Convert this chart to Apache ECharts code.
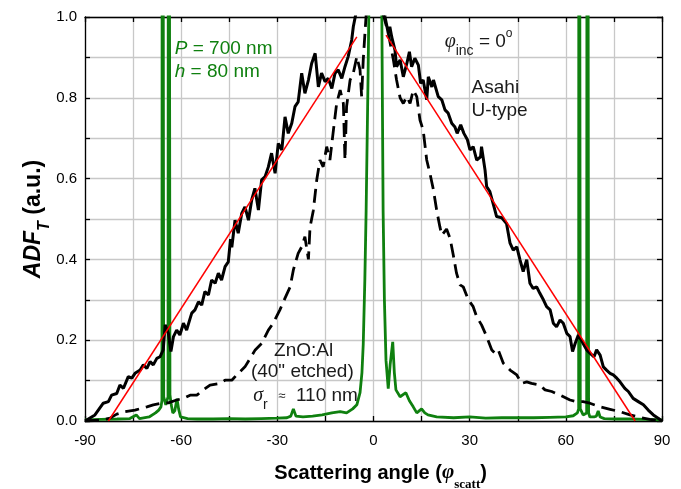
<!DOCTYPE html>
<html>
<head>
<meta charset="utf-8">
<script src="https://cdn.jsdelivr.net/npm/echarts@6/dist/echarts.min.js"></script>
<style>
html,body{margin:0;padding:0;background:#fff;}
#chart{width:681px;height:489px;}
</style>
</head>
<body>
<div id="chart"></div>
<script>
// ---- Data ----
const xTicks = [-90, -60, -30, 0, 30, 60, 90];
const yTicks = [0.0, 0.2, 0.4, 0.6, 0.8, 1.0];

// Asahi U-type (solid black)
const asahiAngle = [-90,-86.9,-84.3,-82.7,-81.7,-80.1,-79.1,-78,-76.5,-75.4,-74.4,-72.8,-71.8,-70.7,-69.7,-68.7,-67.6,-66.6,-65.6,-65,-64,-63.2,-62.4,-61.4,-60.4,-59.3,-58.3,-57.2,-56.7,-55.7,-54.6,-53.6,-52.6,-51.5,-50.5,-49.4,-48.4,-47.4,-46.3,-45.3,-44.6,-44.2,-43.2,-42.2,-41.1,-40.1,-39,-38,-37,-35.9,-34.9,-33.8,-32.8,-31.8,-30.7,-29.7,-28.6,-27.6,-26.6,-25.5,-24.5,-23.5,-22.4,-21.4,-20.3,-19.3,-18.2,-17.2,-16.2,-15.1,-14.1,-13,-12,-11,-9.9,-8.9,-7.9,-6.8,-6.3,-5.2,-4,-2,0,2,3,3.6,4.6,5.1,5.7,6.7,7.2,8.3,9.3,10.4,11.2,11.9,12.9,14,14.7,15.5,16.6,17.1,18.2,18.7,20.2,21.3,22.3,23.3,24.4,25.4,26.1,27.2,28.2,29.3,30.1,31.1,32.2,33.4,33.7,34.8,35.3,36.3,37.6,38.4,40,41.5,42.6,43.6,44.7,45.7,46.7,47.8,48.8,49.8,50.9,51.9,53,54,55.1,56.1,57.1,58.2,59.2,60.3,61.3,62.1,62.9,63.9,65.4,66.5,67.5,68.8,69.6,70.7,71.7,72.7,73.8,74.8,75.9,76.9,78.4,79.5,81,82.6,84.2,85.7,87.3,88.8,90];
const asahiValue = [0,0.015,0.044,0.048,0.064,0.068,0.089,0.081,0.11,0.106,0.118,0.126,0.139,0.13,0.147,0.139,0.155,0.159,0.176,0.238,0.217,0.172,0.209,0.225,0.213,0.242,0.225,0.254,0.267,0.275,0.295,0.287,0.32,0.312,0.349,0.341,0.366,0.349,0.382,0.394,0.45,0.43,0.497,0.465,0.514,0.53,0.497,0.547,0.576,0.522,0.597,0.605,0.629,0.663,0.613,0.687,0.671,0.753,0.712,0.737,0.778,0.79,0.861,0.811,0.844,0.885,0.91,0.827,0.861,0.84,0.848,0.823,0.861,0.869,0.848,0.877,0.902,0.943,0.976,1.02,1.08,1.15,1.2,1.12,1.05,1.0,0.96,0.976,0.95,0.918,0.877,0.894,0.852,0.885,0.914,0.877,0.898,0.881,0.836,0.844,0.795,0.852,0.827,0.844,0.803,0.795,0.77,0.762,0.737,0.728,0.712,0.733,0.712,0.696,0.671,0.679,0.646,0.654,0.679,0.621,0.58,0.568,0.53,0.506,0.503,0.489,0.44,0.423,0.431,0.399,0.37,0.399,0.341,0.328,0.332,0.316,0.3,0.283,0.275,0.242,0.233,0.25,0.242,0.217,0.209,0.172,0.192,0.213,0.192,0.176,0.168,0.159,0.176,0.163,0.134,0.126,0.118,0.114,0.106,0.097,0.081,0.073,0.056,0.048,0.04,0.027,0.015,0.007,0];

// ZnO:Al 40" etched (dashed black)
const znoAngle = [-90,-85.3,-82.2,-80.1,-77.5,-74.4,-70.7,-68.7,-66.1,-64,-61.4,-59.3,-57.2,-55.1,-53.1,-51,-47.9,-46.3,-44.2,-42.2,-40.1,-38.5,-36.9,-34.9,-32.8,-31.3,-29.2,-27.6,-26,-25,-23.5,-22.4,-21.4,-20.3,-19.8,-18.8,-17.7,-16.7,-15.7,-14.6,-13.6,-12.5,-11.5,-10.4,-9.4,-8.9,-8.4,-7.3,-6.3,-5.2,-4.2,-3.7,-3.2,-2.6,-1.5,0,1.5,2.6,3.6,4.6,6.2,7.2,8.3,9.3,10.4,11.4,12.4,13.5,14.5,15.5,16.6,17.6,18.7,19.7,20.7,21.3,22.8,23.9,24.9,25.9,27,28,29.6,31.1,32.2,33.7,35.3,36.9,37.9,38.9,40.5,42.6,44.7,46.2,47.8,49.3,51.9,53.5,55.6,58.2,61.3,63.4,65.4,67.5,70.7,73.8,76.9,80,83.1,86.2,90];
const znoValue = [0,0.002,0.007,0.017,0.023,0.027,0.035,0.04,0.044,0.045,0.052,0.056,0.064,0.064,0.077,0.089,0.093,0.101,0.101,0.118,0.134,0.155,0.176,0.192,0.225,0.242,0.275,0.304,0.332,0.374,0.415,0.431,0.456,0.4,0.48,0.52,0.597,0.646,0.629,0.679,0.646,0.72,0.786,0.819,0.786,0.646,0.778,0.844,0.861,0.902,0.869,0.803,0.894,0.968,1.1,1.2,1.1,1.02,0.99,0.96,0.894,0.844,0.8,0.786,0.803,0.786,0.819,0.803,0.745,0.72,0.646,0.613,0.572,0.522,0.481,0.46,0.475,0.452,0.41,0.366,0.337,0.332,0.3,0.283,0.258,0.238,0.209,0.176,0.168,0.176,0.143,0.126,0.114,0.093,0.097,0.093,0.089,0.077,0.073,0.064,0.052,0.048,0.048,0.044,0.035,0.029,0.023,0.015,0.009,0.004,0];

// Grating P = 700 nm, h = 80 nm (green)
const gratingAngle = [-90,-85,-80,-76,-74,-73,-70,-68,-67,-66.3,-66.0,-65.85,-65.65,-65.45,-64.8,-64.1,-63.9,-63.7,-63.5,-63.1,-62.6,-62,-61.3,-60.8,-60.2,-58,-55,-50,-45,-40,-35,-30,-27,-25.8,-25,-24.2,-22,-19,-16,-13,-10.4,-8.4,-6.5,-5.2,-4.2,-3.6,-3.2,-2.7,-2.3,-1.7,-1.4,-1,0,2,2.6,3,3.4,3.9,4.6,5.2,6,6.5,7,8.3,10.1,11.2,12.4,13.5,15,16,17,19.7,25,30,35,40,45,50,55,60,62.3,63.6,64.0,64.1,64.3,64.5,65.4,66.5,66.7,66.9,67.1,67.5,68.8,69.5,70.1,70.7,72,76,80,85,90];
const gratingValue = [0.003,0.004,0.005,0.006,0.015,0.006,0.01,0.02,0.027,0.035,0.05,3,3,0.06,0.04,0.06,3,3,0.065,0.04,0.02,0.025,0.055,0.03,0.01,0.006,0.005,0.005,0.006,0.005,0.006,0.007,0.008,0.012,0.03,0.012,0.01,0.012,0.015,0.02,0.023,0.02,0.03,0.04,0.07,0.12,0.19,0.35,0.52,0.85,1.05,2,5,2,1.0,0.52,0.3,0.15,0.08,0.14,0.196,0.12,0.077,0.06,0.07,0.05,0.035,0.02,0.03,0.02,0.015,0.01,0.008,0.01,0.007,0.008,0.008,0.008,0.009,0.01,0.013,0.02,0.03,3,3,0.03,0.015,0.02,3,3,0.02,0.01,0.01,0.012,0.025,0.01,0.006,0.005,0.005,0.004,0.003];

// Red linear guides
const guideLeftAngle = [-82.7, -5.2];
const guideLeftValue = [0, 0.951];
const guideRightAngle = [3.9, 81.6];
const guideRightValue = [0.955, 0];

const zip = (a, b) => a.map((x, i) => [x, b[i]]);

const SANS = 'Liberation Sans, Arial, sans-serif';
const SERIF = 'Liberation Serif, Times New Roman, serif';

const chart = echarts.init(document.getElementById('chart'), null, {renderer: 'canvas'});

const axisLineStyle = {color: '#000', width: 1.3};
const option = {
  animation: false,
  backgroundColor: '#fff',
  grid: {left: 85, right: 19, top: 17, bottom: 68, containLabel: false, outerBoundsMode: 'none'},
  xAxis: [
    {
      type: 'value', min: -90, max: 90, interval: 15, position: 'bottom',
      axisLine: {show: true, onZero: false, lineStyle: axisLineStyle},
      axisTick: {show: true, inside: true, length: 5, lineStyle: axisLineStyle},
      splitLine: {show: true, lineStyle: {color: '#c8c8c8', width: 1.3}},
      axisLabel: {
        formatter: v => (xTicks.indexOf(v) >= 0 ? String(v) : ''),
        fontSize: 15, color: '#000', fontFamily: SANS, margin: 12
      },
      name: '{b|Scattering angle (}{phi|φ}{sub|scatt}{b|)}',
      nameLocation: 'middle', nameGap: 40, nameMoveOverlap: false,
      nameTextStyle: {
        padding: [0, 0, 0, 14],
        rich: {
          b: {fontSize: 20, fontWeight: 'bold', fontFamily: SANS, color: '#000', lineHeight: 24},
          phi: {fontSize: 21, fontWeight: 'bold', fontStyle: 'italic', fontFamily: SERIF, color: '#000', lineHeight: 24},
          sub: {fontSize: 13, fontWeight: 'bold', fontFamily: SERIF, color: '#000', verticalAlign: 'bottom', lineHeight: 13, padding: [0, 0, -6, 0]}
        }
      }
    },
    {
      type: 'value', min: -90, max: 90, interval: 15, position: 'top',
      axisLine: {show: true, onZero: false, lineStyle: axisLineStyle},
      axisTick: {show: true, inside: true, length: 5, lineStyle: axisLineStyle},
      splitLine: {show: false}, axisLabel: {show: false}
    }
  ],
  yAxis: [
    {
      type: 'value', min: 0, max: 1, interval: 0.1, position: 'left',
      axisLine: {show: true, onZero: false, lineStyle: axisLineStyle},
      axisTick: {show: true, inside: true, length: 5, lineStyle: axisLineStyle},
      splitLine: {show: true, lineStyle: {color: '#c8c8c8', width: 1.3}},
      axisLabel: {
        formatter: v => {
          const r = Math.round(v * 10) / 10;
          return yTicks.some(t => Math.abs(t - r) < 1e-9) ? r.toFixed(1) : '';
        },
        fontSize: 15, color: '#000', fontFamily: SANS, margin: 8
      },
      name: '{bi|ADF}{sub|T}{b| (a.u.)}',
      nameLocation: 'middle', nameGap: 38, nameRotate: 90, nameMoveOverlap: false,
      nameTextStyle: {
        rich: {
          bi: {fontSize: 23, fontWeight: 'bold', fontStyle: 'italic', fontFamily: SANS, color: '#000', lineHeight: 26},
          b: {fontSize: 23, fontWeight: 'bold', fontFamily: SANS, color: '#000', lineHeight: 26},
          sub: {fontSize: 16, fontWeight: 'bold', fontStyle: 'italic', fontFamily: SANS, color: '#000', verticalAlign: 'bottom', lineHeight: 16, padding: [0, 0, -6, 0]}
        }
      }
    },
    {
      type: 'value', min: 0, max: 1, interval: 0.1, position: 'right',
      axisLine: {show: true, onZero: false, lineStyle: axisLineStyle},
      axisTick: {show: true, inside: true, length: 5, lineStyle: axisLineStyle},
      splitLine: {show: false}, axisLabel: {show: false}
    }
  ],
  series: [
    {
      name: 'Grating', type: 'line', xAxisIndex: 0, yAxisIndex: 0,
      data: zip(gratingAngle, gratingValue), symbol: 'none', clip: true,
      lineStyle: {color: '#0f800f', width: 2.8}, z: 2
    },
    {
      name: 'ZnO:Al', type: 'line', xAxisIndex: 0, yAxisIndex: 0,
      data: zip(znoAngle, znoValue), symbol: 'none', clip: true,
      lineStyle: {color: '#000', width: 2.8, type: [14, 7]}, z: 3
    },
    {
      name: 'Asahi', type: 'line', xAxisIndex: 0, yAxisIndex: 0,
      data: zip(asahiAngle, asahiValue), symbol: 'none', clip: true,
      lineStyle: {color: '#000', width: 3}, z: 4
    },
    {
      name: 'fitL', type: 'line', data: zip(guideLeftAngle, guideLeftValue), symbol: 'none',
      lineStyle: {color: '#ff0000', width: 1.5}, z: 5
    },
    {
      name: 'fitR', type: 'line', data: zip(guideRightAngle, guideRightValue), symbol: 'none',
      lineStyle: {color: '#ff0000', width: 1.5}, z: 5
    }
  ]
};
chart.setOption(option);

// Annotations anchored in data coordinates
const GREEN = '#0f800f';
const TXT = '#1a1a1a';
const annotations = [
  {at: [-62, 0.921], align: 'left', text: '{i|P} = 700 nm', color: GREEN},
  {at: [-62, 0.864], align: 'left', text: '{i|h} = 80 nm', color: GREEN},
  {at: [22.2, 0.938], align: 'left', text: '{phi|φ}{sub|inc} = 0{sup|o}', color: TXT},
  {at: [30.6, 0.824], align: 'left', text: 'Asahi', color: TXT},
  {at: [30.6, 0.767], align: 'left', text: 'U-type', color: TXT},
  {at: [-21.8, 0.173], align: 'center', text: 'ZnO:Al', color: TXT},
  {at: [-22.2, 0.121], align: 'center', text: '(40" etched)', color: TXT},
  {at: [-21.2, 0.062], align: 'center', text: '{sig|σ}{sub|r}  {apx|≈}  110 nm', color: TXT}
];
const graphics = annotations.map(a => {
  const p = chart.convertToPixel({gridIndex: 0}, a.at);
  return {
    type: 'text', x: p[0], y: p[1], z: 10,
    style: {
      text: a.text, align: a.align, verticalAlign: 'middle',
      fill: a.color, fontSize: 19, fontFamily: SANS,
      rich: {
        i: {fontStyle: 'italic', fontSize: 19, fontFamily: SANS, fill: a.color},
        phi: {fontStyle: 'italic', fontSize: 20, fontFamily: SERIF, fill: a.color},
        sig: {fontStyle: 'italic', fontSize: 20, fontFamily: SERIF, fill: a.color},
        sub: {fontSize: 14, fontFamily: SANS, fill: a.color, verticalAlign: 'bottom', padding: [0, 0, -6, 0]},
        sup: {fontSize: 12, fontFamily: SANS, fill: a.color, verticalAlign: 'top', padding: [-4, 0, 0, 0]},
        apx: {fontSize: 13, fontFamily: SANS, fill: a.color}
      }
    }
  };
});
chart.setOption({graphic: graphics});
</script>
</body>
</html>
